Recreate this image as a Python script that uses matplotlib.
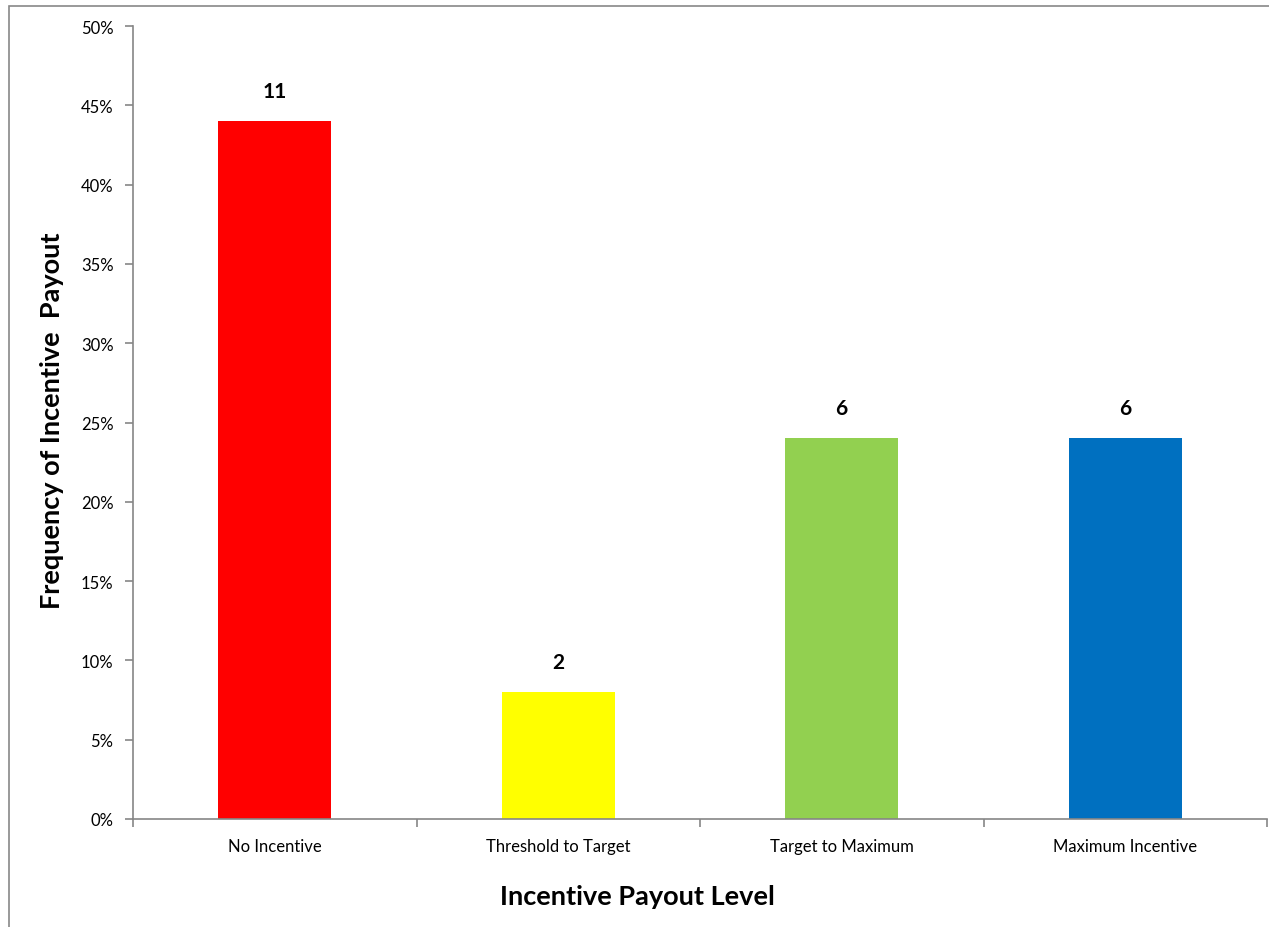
import matplotlib.pyplot as plt
from matplotlib.patches import Rectangle
from matplotlib.ticker import FuncFormatter, FixedLocator, NullFormatter
import numpy as np

categories = ['No Incentive', 'Threshold to Target', 'Target to Maximum', 'Maximum Incentive']
counts = [11, 2, 6, 6]
shares = [0.44, 0.08, 0.24, 0.24]
colors = ['#FF0000', '#FFFF00', '#92D050', '#0070C0']

plt.rcParams['font.family'] = ['Lato', 'DejaVu Sans']

fig = plt.figure(figsize=(12.69, 9.28), dpi=100)
ax = fig.add_axes([133 / 1269, 1 - 820 / 928, 1134 / 1269, 793 / 928])

x = np.arange(len(categories))
ax.bar(x, shares, width=0.4, color=colors, zorder=2)
for xi, s, c in zip(x, shares, counts):
    ax.text(xi, s + 0.013, str(c), ha='center', va='bottom',
            fontsize=15, fontweight='bold', color='black')

ax.set_xlim(-0.5, len(categories) - 0.5)
ax.set_ylim(0, 0.5)
ax.set_yticks(np.arange(0, 0.51, 0.05))
ax.yaxis.set_major_formatter(FuncFormatter(lambda v, p: f'{v * 100:.0f}%'))

ax.xaxis.set_major_locator(FixedLocator(np.arange(-0.5, len(categories), 1.0)))
ax.xaxis.set_major_formatter(NullFormatter())
ax.xaxis.set_minor_locator(FixedLocator(x))
ax.set_xticklabels(categories, minor=True)
ax.tick_params(axis='x', which='minor', length=0, pad=14, labelsize=12)
ax.tick_params(axis='x', which='major', length=6, width=1.2, color='#868686', direction='out')
ax.tick_params(axis='y', length=6, width=1.2, color='#868686', direction='out', labelsize=12, pad=8)

for side in ['top', 'right']:
    ax.spines[side].set_visible(False)
for side in ['left', 'bottom']:
    ax.spines[side].set_color('#868686')
    ax.spines[side].set_linewidth(1.2)

ax.set_xlabel('Incentive Payout Level', fontsize=19.5, fontweight='bold')
ax.xaxis.set_label_coords((637 - 133) / 1134, (820 - 885) / 793)
ax.set_ylabel('Frequency of Incentive  Payout', fontsize=19.5, fontweight='bold')
ax.yaxis.set_label_coords((64 - 133) / 1134, (820 - 421) / 793)

fig.patches.append(Rectangle((9 / 1269, -0.1), 1.2, 1 - 7 / 928 + 0.1,
                             transform=fig.transFigure, fill=False,
                             edgecolor='#888888', linewidth=1.2))

fig.savefig('out.png', dpi=100)
